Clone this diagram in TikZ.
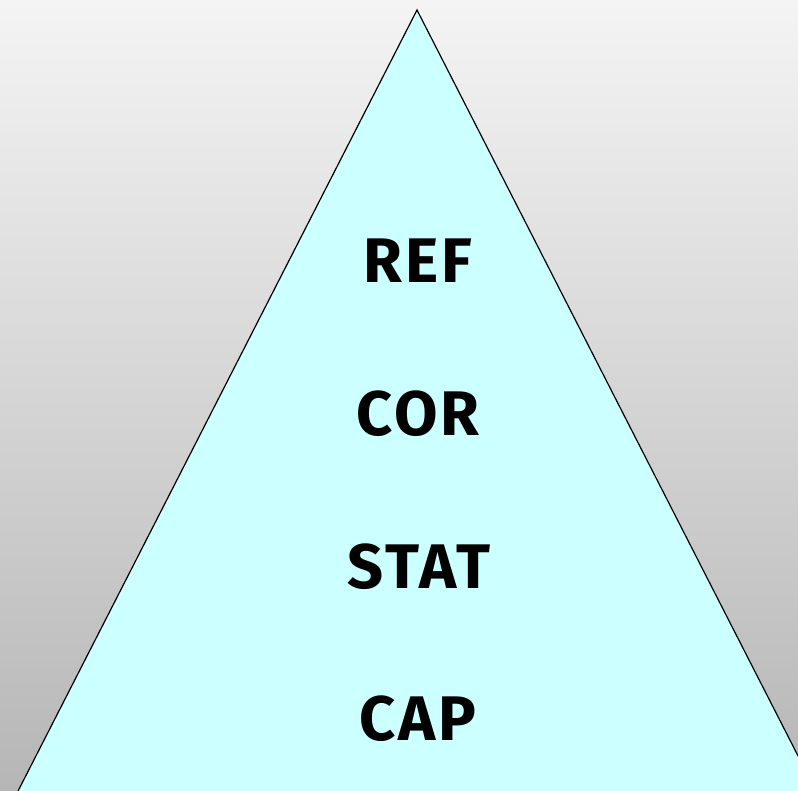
\documentclass[tikz,border=0pt]{standalone}
\usepackage{fontspec}
\setmainfont{Fira Sans}
\newfontfamily\labelfont[LetterSpace=5]{Fira Sans}
\definecolor{bgtop}{RGB}{244,244,244}
\definecolor{bgbottom}{RGB}{182,182,182}
\definecolor{pyramid}{RGB}{204,255,255}
\begin{document}
\begin{tikzpicture}[x=1pt,y=-1pt,
  level/.style={font=\labelfont\fontsize{63}{63}\selectfont\bfseries, text=black, inner sep=0pt, anchor=center}]
  % canvas with vertical grey gradient
  \useasboundingbox (0,0) rectangle (798,791);
  \shade[top color=bgtop, bottom color=bgbottom] (0,0) rectangle (798,791);
  % pyramid, clipped to the canvas
  \begin{scope}
    \clip (0,0) rectangle (798,791);
    \draw[fill=pyramid, line width=1.2pt, line join=miter]
      (417,10) -- (16,795) -- (818,795) -- cycle;
  \end{scope}
  % layer labels
  \node[level] (ref)  at (418,261) {REF};
  \node[level] (cor)  at (418,414) {COR};
  \node[level] (stat) at (419,567) {STAT};
  \node[level] (cap)  at (418,719) {CAP};
\end{tikzpicture}
\end{document}
